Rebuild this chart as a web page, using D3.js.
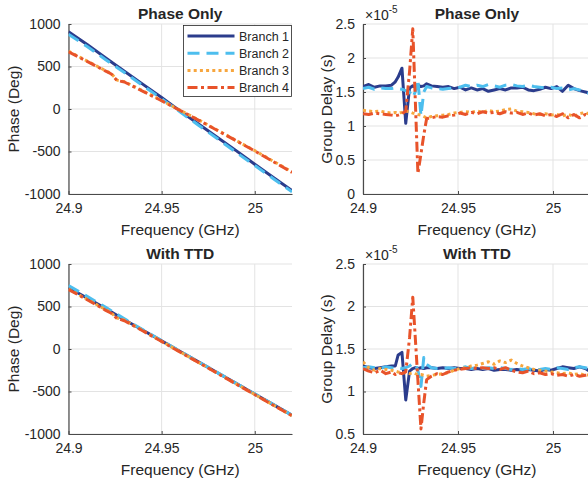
<!DOCTYPE html>
<html><head><meta charset="utf-8">
<script src="https://cdn.jsdelivr.net/npm/d3@7"></script>
<style>
body{margin:0;background:#fff}
svg{display:block}
text{font-family:"Liberation Sans",Arial,Helvetica,sans-serif;fill:#262626}
</style>
</head><body><svg id="c" width="588" height="481"></svg>
<script>
// ---------- data ----------
const branches = ["Branch 1", "Branch 2", "Branch 3", "Branch 4"];
const freqTicks = [24.9, 24.95, 25];
const phaseTicks = [-1000, -500, 0, 500, 1000];
const gdTicksTop = [0, 0.5, 1, 1.5, 2, 2.5];
const gdTicksBottom = [0.5, 1, 1.5, 2, 2.5];
const titles = ["Phase Only", "Phase Only", "With TTD", "With TTD"];

// phase sample frequencies (GHz)
const phaseFreqA = [24.90,24.91,24.92,24.93,24.94,24.95,24.96,24.97,24.98,24.99,25.00,25.01,25.02];
const phaseFreqB = [24.90,24.91,24.92,24.923,24.926,24.93,24.94,24.95,24.96,24.97,24.98,24.99,25.00,25.01,25.02];

// Phase Only, phase (deg)
const poPhaseB1 = [910,760,600,445,290,135,-25,-180,-335,-490,-650,-805,-960];
const poPhaseB2 = [880,735,580,430,275,120,-35,-195,-350,-510,-665,-820,-975];
const poPhaseB3 = [680,565,450,418,340,322,212,100,-15,-130,-250,-370,-490,-615,-740];
const poPhaseB4 = [672,560,445,412,335,318,208,97,-18,-133,-253,-373,-494,-620,-745];

// With TTD, phase (deg)
const ttdPhaseB1 = [720,600,475,345,220,95,-30,-155,-280,-405,-530,-655,-780];
const ttdPhaseB2 = [745,620,490,355,225,100,-28,-153,-278,-403,-528,-653,-778];
const ttdPhaseB3 = [705,585,462,425,365,340,215,90,-35,-160,-285,-410,-535,-660,-785];
const ttdPhaseB4 = [700,580,455,420,360,333,212,88,-37,-162,-287,-412,-537,-662,-785];

// group delay sample frequencies (GHz)
const gdFreq = [24.900,24.903,24.906,24.909,24.912,24.915,24.917,24.9185,24.9205,24.9225,
  24.9245,24.9262,24.9275,24.9289,24.9305,24.9320,24.9335,24.936,24.939,24.942,
  24.945,24.948,24.951,24.954,24.957,24.960,24.963,24.966,24.969,24.972,
  24.975,24.978,24.981,24.984,24.987,24.990,24.993,24.996,24.999,25.002,
  25.005,25.008,25.011,25.014,25.017,25.020];

// Phase Only, group delay (x1e-5 s)
const poGdB1 = [1.58,1.61,1.57,1.59,1.59,1.60,1.65,1.72,1.85,1.04,
  1.56,1.59,1.57,1.60,1.58,1.59,1.62,1.59,1.58,1.57,
  1.58,1.55,1.57,1.53,1.56,1.53,1.55,1.51,1.53,1.55,
  1.53,1.56,1.56,1.57,1.53,1.52,1.54,1.57,1.55,1.58,
  1.51,1.60,1.55,1.52,1.50,1.48];
const poGdB2 = [1.55,1.57,1.54,1.56,1.55,1.55,1.56,1.55,1.54,1.52,
  1.50,1.42,1.50,1.68,1.15,1.50,1.58,1.56,1.55,1.54,
  1.55,1.56,1.57,1.60,1.58,1.60,1.58,1.61,1.59,1.57,
  1.60,1.61,1.59,1.58,1.60,1.58,1.57,1.56,1.57,1.55,
  1.56,1.53,1.55,1.53,1.50,1.47];
const poGdB3 = [1.23,1.22,1.21,1.22,1.20,1.19,1.20,1.19,1.20,1.22,
  1.21,1.19,1.18,1.17,1.16,1.14,1.12,1.14,1.15,1.16,
  1.17,1.19,1.20,1.21,1.20,1.22,1.20,1.23,1.21,1.22,
  1.24,1.25,1.22,1.21,1.20,1.18,1.17,1.18,1.16,1.17,
  1.15,1.17,1.14,1.18,1.20,1.16];
const poGdB4 = [1.18,1.17,1.19,1.18,1.17,1.16,1.15,1.16,1.18,1.22,
  1.80,2.43,1.40,0.30,0.59,0.87,1.11,1.12,1.14,1.13,
  1.15,1.16,1.19,1.17,1.20,1.18,1.21,1.19,1.20,1.18,
  1.21,1.19,1.20,1.17,1.19,1.16,1.18,1.15,1.17,1.14,
  1.18,1.12,1.17,1.12,1.17,1.14];

// With TTD, group delay (x1e-5 s)
const ttdGdB1 = [1.30,1.28,1.27,1.28,1.29,1.30,1.30,1.43,1.46,0.90,
  1.24,1.27,1.28,1.27,1.28,1.27,1.28,1.28,1.27,1.28,
  1.27,1.28,1.27,1.27,1.26,1.27,1.26,1.27,1.25,1.26,
  1.26,1.25,1.26,1.25,1.26,1.25,1.24,1.26,1.25,1.27,
  1.29,1.28,1.27,1.29,1.27,1.23];
const ttdGdB2 = [1.28,1.29,1.28,1.27,1.29,1.28,1.27,1.28,1.27,1.28,
  1.30,1.33,1.32,1.25,1.06,1.40,1.32,1.28,1.27,1.27,
  1.28,1.27,1.28,1.29,1.27,1.28,1.27,1.28,1.27,1.28,
  1.27,1.26,1.27,1.26,1.27,1.25,1.26,1.27,1.26,1.28,
  1.27,1.26,1.28,1.29,1.28,1.26];
const ttdGdB3 = [1.35,1.28,1.25,1.27,1.26,1.25,1.24,1.23,1.22,1.22,
  1.21,1.22,1.21,1.20,1.20,1.19,1.18,1.19,1.20,1.21,
  1.22,1.25,1.27,1.28,1.30,1.31,1.33,1.35,1.32,1.36,
  1.34,1.37,1.33,1.30,1.28,1.26,1.25,1.24,1.23,1.22,
  1.21,1.22,1.20,1.21,1.19,1.20];
const ttdGdB4 = [1.27,1.24,1.22,1.25,1.21,1.23,1.20,1.22,1.21,1.23,
  1.63,2.11,1.64,1.13,0.56,0.87,1.14,1.18,1.21,1.20,
  1.23,1.25,1.26,1.27,1.28,1.27,1.28,1.27,1.28,1.26,
  1.28,1.25,1.23,1.22,1.24,1.21,1.22,1.20,1.21,1.19,
  1.20,1.18,1.20,1.18,1.19,1.20];

// ---------- styles ----------
const colors = ["#2b3c8c", "#4dbeee", "#f7a63e", "#e8532a"];
const dashes = [null, "12,7", "3,3.2", "10,3.5,3,3.5"];
const FONT_TICK = 14, FONT_LABEL = 15.5, FONT_LEG = 12.5, LW = 3;

const svg = d3.select("#c");
const fmt = v => String(v);

function panel(opt) {
  const {x0, x1, y0, y1, ydom, yticks, ylab, ylabX, title, series, exponent, legend, id} = opt;
  const x = d3.scaleLinear().domain([24.9, 25.02]).range([x0, x1]);
  const y = d3.scaleLinear().domain(ydom).range([y1, y0]);
  const g = svg.append("g");

  // grid
  g.selectAll(".gx").data(freqTicks).join("line")
    .attr("x1", d => x(d)).attr("x2", d => x(d)).attr("y1", y0).attr("y2", y1)
    .attr("stroke", "#e3e3e3").attr("stroke-width", 1);
  g.selectAll(".gy").data(yticks).join("line")
    .attr("x1", x0).attr("x2", x1).attr("y1", d => y(d)).attr("y2", d => y(d))
    .attr("stroke", "#e3e3e3").attr("stroke-width", 1);

  // axes
  const ax = g.append("g").attr("transform", `translate(0,${y1})`)
    .call(d3.axisBottom(x).tickValues(freqTicks).tickFormat(fmt).tickSizeInner(-3).tickSizeOuter(0).tickPadding(9));
  const ay = g.append("g").attr("transform", `translate(${x0},0)`)
    .call(d3.axisLeft(y).tickValues(yticks).tickFormat(fmt).tickSizeInner(-3).tickSizeOuter(0).tickPadding(8));
  [ax, ay].forEach(a => {
    a.select(".domain").attr("stroke", "#4a4a4a").attr("stroke-width", 1.2);
    a.selectAll(".tick line").attr("stroke", "#4a4a4a");
    a.selectAll("text").attr("font-size", FONT_TICK).attr("fill", "#262626")
      .attr("font-family", '"Liberation Sans",Arial,sans-serif');
  });

  // clip + lines
  const clipId = "clip" + id;
  svg.append("clipPath").attr("id", clipId).append("rect")
    .attr("x", x0).attr("y", y0 - 2).attr("width", x1 - x0).attr("height", y1 - y0 + 2);
  const lg = g.append("g").attr("clip-path", `url(#${clipId})`);
  series.forEach((s, i) => {
    const line = d3.line().x(d => x(d[0])).y(d => y(d[1]));
    lg.append("path").datum(d3.zip(s.f, s.v))
      .attr("d", line).attr("fill", "none")
      .attr("stroke", colors[i]).attr("stroke-width", LW)
      .attr("stroke-dasharray", dashes[i])
      .attr("stroke-linejoin", "round");
  });

  // title
  g.append("text").attr("x", (x0 + x1) / 2).attr("y", y0 - 5.5).attr("text-anchor", "middle")
    .attr("font-size", FONT_LABEL).attr("font-weight", "bold").attr("fill", "#000").text(title);
  // x label
  g.append("text").attr("x", (x0 + x1) / 2).attr("y", y1 + 41).attr("text-anchor", "middle")
    .attr("font-size", FONT_LABEL).text("Frequency (GHz)");
  // y label
  g.append("text").attr("transform", `translate(${ylabX},${(y0 + y1) / 2}) rotate(-90)`)
    .attr("text-anchor", "middle").attr("font-size", FONT_LABEL).text(ylab);

  if (exponent) {
    const t = g.append("text").attr("x", x0 + 2).attr("y", y0 - 4).attr("font-size", 14);
    t.append("tspan").text("\u00d710");
    t.append("tspan").attr("dy", -7).attr("font-size", 10).text("-5");
  }

  if (legend) {
    const lx = 183.5, ly = 25.5, lw = 108, lh = 71;
    const L = g.append("g");
    L.append("rect").attr("x", lx).attr("y", ly).attr("width", lw).attr("height", lh)
      .attr("fill", "#fff").attr("stroke", "#262626").attr("stroke-width", 0.8);
    branches.forEach((b, i) => {
      const yy = ly + 10.5 + i * 17.2;
      L.append("line").attr("x1", lx + 4).attr("x2", lx + 51).attr("y1", yy).attr("y2", yy)
        .attr("stroke", colors[i]).attr("stroke-width", LW).attr("stroke-dasharray", dashes[i]);
      L.append("text").attr("x", lx + 55.5).attr("y", yy).attr("dy", "0.36em")
        .attr("font-size", FONT_LEG).attr("fill", "#000").text(b);
    });
  }
}

panel({id: 1, x0: 68.5, x1: 292, y0: 24, y1: 194, ydom: [-1000, 1000], yticks: phaseTicks,
  ylab: "Phase (Deg)", ylabX: 19, title: titles[0], legend: true,
  series: [{f: phaseFreqA, v: poPhaseB1}, {f: phaseFreqA, v: poPhaseB2},
           {f: phaseFreqB, v: poPhaseB3}, {f: phaseFreqB, v: poPhaseB4}]});
panel({id: 2, x0: 363, x1: 591, y0: 24, y1: 194, ydom: [0, 2.5], yticks: gdTicksTop,
  ylab: "Group Delay (s)", ylabX: 332, title: titles[1], exponent: true,
  series: [{f: gdFreq, v: poGdB1}, {f: gdFreq, v: poGdB2}, {f: gdFreq, v: poGdB3}, {f: gdFreq, v: poGdB4}]});
panel({id: 3, x0: 68.5, x1: 292, y0: 264, y1: 434, ydom: [-1000, 1000], yticks: phaseTicks,
  ylab: "Phase (Deg)", ylabX: 19, title: titles[2],
  series: [{f: phaseFreqA, v: ttdPhaseB1}, {f: phaseFreqA, v: ttdPhaseB2},
           {f: phaseFreqB, v: ttdPhaseB3}, {f: phaseFreqB, v: ttdPhaseB4}]});
panel({id: 4, x0: 363, x1: 591, y0: 264, y1: 434, ydom: [0.5, 2.5], yticks: gdTicksBottom,
  ylab: "Group Delay (s)", ylabX: 332, title: titles[3], exponent: true,
  series: [{f: gdFreq, v: ttdGdB1}, {f: gdFreq, v: ttdGdB2}, {f: gdFreq, v: ttdGdB3}, {f: gdFreq, v: ttdGdB4}]});
</script>
</body></html>
